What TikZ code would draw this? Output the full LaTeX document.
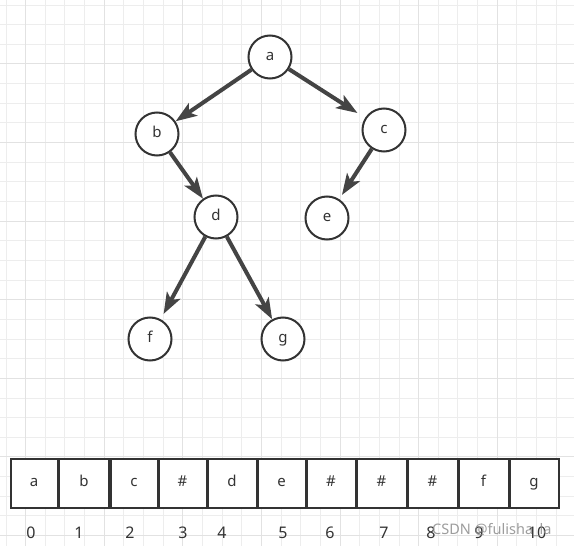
\documentclass[tikz,border=0pt]{standalone}
\usepackage{fontspec}
\setmainfont{Noto Sans}
\usetikzlibrary{arrows.meta}
\definecolor{gridminor}{HTML}{EDEDED}
\definecolor{gridmajor}{HTML}{E2E2E2}
\definecolor{ink}{HTML}{333333}
\definecolor{arrowink}{HTML}{444444}
\tikzset{
  treenode/.style={circle, draw=ink, line width=2pt, fill=white, minimum size=43pt, inner sep=0pt, font=\fontsize{15pt}{17pt}\selectfont, text=ink, text height=8pt, text depth=2pt},
  edgearrow/.style={draw=arrowink, line width=4pt, -{Stealth[length=21pt 0 0,width=15pt 0 0,inset=5pt 0]}},
  cellbox/.style={draw=ink, line width=2pt, fill=white, minimum height=49pt, inner sep=0pt, font=\fontsize{15pt}{17pt}\selectfont, text=ink, text height=8pt, text depth=2pt},
  idxlabel/.style={font=\fontsize{16pt}{18pt}\selectfont, text=ink, inner sep=0pt},
  gminor/.style={draw=gridminor, line width=1pt},
  gmajor/.style={draw=gridmajor, line width=1pt}
}
\begin{document}
\begin{tikzpicture}[x=1pt,y=-1pt]
\useasboundingbox (0,0) rectangle (574,546);
\fill[white] (0,0) rectangle (574,546);
% grid
\foreach \k in {0,...,28} { \draw[gminor] ({6+19.65*\k},0) -- ({6+19.65*\k},546); }
\foreach \k in {0,...,27} { \draw[gminor] (0,{5+19.65*\k}) -- (574,{5+19.65*\k}); }
\foreach \k in {1,5,...,25} { \draw[gmajor] ({6+19.65*\k},0) -- ({6+19.65*\k},546); }
\foreach \k in {3,7,...,27} { \draw[gmajor] (0,{5+19.65*\k}) -- (574,{5+19.65*\k}); }
% tree
\node[treenode] (a) at (270,57) {a};
\node[treenode] (b) at (157,134) {b};
\node[treenode] (c) at (384,130) {c};
\node[treenode] (d) at (216,217) {d};
\node[treenode] (e) at (327,218) {e};
\node[treenode] (f) at (150,339) {f};
\node[treenode] (g) at (283,339) {g};
\draw[edgearrow] (a) -- (b);
\draw[edgearrow, shorten >=9pt] (a) -- (c);
\draw[edgearrow] (b) -- (d);
\draw[edgearrow, shorten >=5pt] (c) -- (e);
\draw[edgearrow, shorten >=6pt] (d) -- (f);
\draw[edgearrow] (d) -- (g);
% array
\node[cellbox, minimum width=47pt] (c0) at (34,483.5) {a};
\node[cellbox, minimum width=50pt] (c1) at (84,483.5) {b};
\node[cellbox, minimum width=47pt] (c2) at (134,483.5) {c};
\node[cellbox, minimum width=48pt] (c3) at (182.5,483.5) {\#};
\node[cellbox, minimum width=49pt] (c4) at (232,483.5) {d};
\node[cellbox, minimum width=48pt] (c5) at (281.5,483.5) {e};
\node[cellbox, minimum width=49pt] (c6) at (331,483.5) {\#};
\node[cellbox, minimum width=50pt] (c7) at (381.5,483.5) {\#};
\node[cellbox, minimum width=50pt] (c8) at (432.5,483.5) {\#};
\node[cellbox, minimum width=50pt] (c9) at (483.5,483.5) {f};
\node[cellbox, minimum width=49pt] (c10) at (534,483.5) {g};
% indices
\node[idxlabel] (i0) at (31,533) {0};
\node[idxlabel] (i1) at (79,533) {1};
\node[idxlabel] (i2) at (130,533) {2};
\node[idxlabel] (i3) at (183,533) {3};
\node[idxlabel] (i4) at (222,533) {4};
\node[idxlabel] (i5) at (283,533) {5};
\node[idxlabel] (i6) at (330,533) {6};
\node[idxlabel] (i7) at (384,533) {7};
\node[idxlabel] (i8) at (431,533) {8};
\node[idxlabel] (i9) at (479,533) {9};
\node[idxlabel] (i10) at (537,533) {10};
% watermark
\node[font=\fontsize{14.5pt}{17pt}\selectfont, text=black!45, opacity=0.85, inner sep=0pt, anchor=west] (wm) at (432,530) {CSDN @fulisha\_la};
\end{tikzpicture}
\end{document}
